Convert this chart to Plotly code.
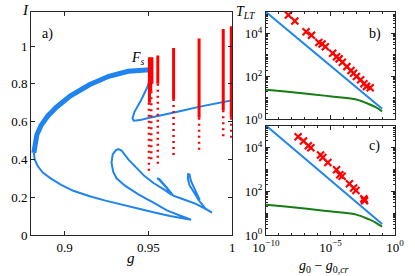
import plotly.graph_objects as go

# ---------------- panel a) : bifurcation diagram ----------------
# thick (stable) upper branch, from left fold up to fold F_s
upper_g = [0.8817, 0.8822, 0.8835, 0.8860, 0.8900, 0.8950, 0.9033, 0.9148, 0.9264, 0.9379, 0.9475, 0.9505, 0.9515]
upper_I = [0.435, 0.480, 0.530, 0.580, 0.630, 0.675, 0.735, 0.795, 0.840, 0.866, 0.877, 0.874, 0.865]

# thin branch after F_s: down to lower fold, then to g = 1
mid_g = [0.9515, 0.9514, 0.9494, 0.9456, 0.9417, 0.9405, 0.9412, 0.9450, 0.9494, 0.9590, 0.9687, 0.9800, 0.9937, 1.0000]
mid_I = [0.865, 0.844, 0.783, 0.713, 0.652, 0.618, 0.605, 0.608, 0.618, 0.635, 0.655, 0.678, 0.704, 0.713]

# thin lower branch with loops
low_g = [0.8817, 0.8822, 0.8840, 0.8870, 0.8917, 0.8980, 0.9052, 0.9150, 0.9244, 0.9340, 0.9437, 0.9530, 0.9629, 0.9700, 0.9754,
         0.9687, 0.9610, 0.9533, 0.9440, 0.9360, 0.9310, 0.9290, 0.9280, 0.9287, 0.9305, 0.9321, 0.9340, 0.9380, 0.9417, 0.9475,
         0.9530, 0.9590, 0.9639, 0.9600, 0.9560, 0.9552, 0.9565, 0.9610, 0.9648, 0.9720, 0.9783, 0.9840, 0.9879,
         0.9840, 0.9802, 0.9770, 0.9744, 0.9735, 0.9737, 0.9745, 0.9754, 0.9780, 0.9806]
low_I = [0.435, 0.400, 0.365, 0.330, 0.300, 0.265, 0.234, 0.205, 0.182, 0.160, 0.139, 0.120, 0.101, 0.090, 0.081,
         0.103, 0.130, 0.170, 0.215, 0.261, 0.300, 0.335, 0.383, 0.426, 0.448, 0.455, 0.447, 0.400, 0.365, 0.313,
         0.275, 0.243, 0.212, 0.258, 0.296, 0.300, 0.296, 0.250, 0.208, 0.185, 0.165, 0.138, 0.118,
         0.140, 0.182, 0.225, 0.265, 0.300, 0.322, 0.320, 0.285, 0.235, 0.185]

# red simulation columns: dense part (g, top, bottom) and sparse part (g, top, bottom)
dense_g = [0.9506, 0.9514, 0.9521, 0.9556, 0.9650, 0.9802, 0.9946, 0.9994]
dense_top = [0.94, 0.93, 0.94, 0.95, 0.99, 1.04, 1.09, 1.105]
dense_bot = [0.70, 0.76, 0.80, 0.80, 0.72, 0.62, 0.66, 0.62]
sparse_g = [0.9503, 0.9517, 0.9556, 0.9650, 0.9802, 0.9946, 0.9994]
sparse_top = [0.70, 0.76, 0.80, 0.72, 0.62, 0.66, 0.62]
sparse_bot = [0.33, 0.40, 0.37, 0.42, 0.45, 0.52, 0.50]

# ---------------- panels b) and c) : lifetimes ----------------
blue_log_dg = [-10.0, -1.0]
blue_log_T = [5.0, 0.5]
green_log_dg = [-10.0, -8.5, -7.0, -5.5, -4.5, -3.0, -2.0, -1.5, -1.0]
green_log_T = [1.38, 1.30, 1.21, 1.11, 1.05, 0.93, 0.71, 0.57, 0.38]

b_log_dg = [-8.26, -7.76, -6.89, -6.47, -5.90, -5.65, -5.40, -4.83, -4.53, -4.33, -4.08, -3.73, -3.41, -3.21, -2.99, -2.66, -2.41, -2.21, -1.92]
b_log_T = [4.86, 4.58, 4.08, 3.92, 3.58, 3.51, 3.38, 3.08, 2.92, 2.82, 2.66, 2.46, 2.28, 2.15, 2.00, 1.85, 1.66, 1.54, 1.48]
c_log_dg = [-7.51, -7.09, -6.72, -6.52, -5.77, -5.60, -5.20, -4.53, -4.28, -4.10, -3.53, -3.21, -3.03, -2.41, -2.36]
c_log_T = [4.49, 4.29, 4.08, 3.98, 3.65, 3.54, 3.31, 2.98, 2.75, 2.68, 2.34, 2.15, 2.03, 1.65, 1.57]

BLUE = "#1f83f0"
RED = "#ff0000"
GREEN = "#147d14"
FONT = "Liberation Serif"

def p10(v):
    return [10 ** x for x in v]

fig = go.Figure()

# panel a
fig.add_trace(go.Scatter(x=low_g, y=low_I, mode="lines", line=dict(color=BLUE, width=2), xaxis="x", yaxis="y"))
fig.add_trace(go.Scatter(x=mid_g, y=mid_I, mode="lines", line=dict(color=BLUE, width=2), xaxis="x", yaxis="y"))
fig.add_trace(go.Scatter(x=upper_g, y=upper_I, mode="lines", line=dict(color=BLUE, width=5), xaxis="x", yaxis="y"))
for g, t, b in zip(sparse_g, sparse_top, sparse_bot):
    fig.add_trace(go.Scatter(x=[g, g], y=[t, b], mode="lines",
                             line=dict(color=RED, width=2.5, dash="2px,4px"), xaxis="x", yaxis="y"))
for g, t, b in zip(dense_g, dense_top, dense_bot):
    fig.add_trace(go.Scatter(x=[g, g], y=[t, b], mode="lines",
                             line=dict(color=RED, width=3), xaxis="x", yaxis="y"))

# panels b and c
for xa, ya, cx, cy in (("x2", "y2", b_log_dg, b_log_T), ("x3", "y3", c_log_dg, c_log_T)):
    fig.add_trace(go.Scatter(x=p10(blue_log_dg), y=p10(blue_log_T), mode="lines",
                             line=dict(color=BLUE, width=2), xaxis=xa, yaxis=ya))
    fig.add_trace(go.Scatter(x=p10(green_log_dg), y=p10(green_log_T), mode="lines",
                             line=dict(color=GREEN, width=2, shape="spline"), xaxis=xa, yaxis=ya))
    fig.add_trace(go.Scatter(x=p10(cx), y=p10(cy), mode="markers",
                             marker=dict(symbol="x-thin", size=7, line=dict(color=RED, width=2.2)),
                             xaxis=xa, yaxis=ya))

axis_common = dict(showline=True, mirror="ticks", linecolor="#262626", linewidth=1,
                   ticks="inside", ticklen=4, tickcolor="#262626", showgrid=False, zeroline=False,
                   tickfont=dict(family=FONT, size=13, color="black"))

sup = lambda e: "10<sup>%s</sup>" % e
xlog = dict(type="log", range=[-10, 0], tickvals=[1e-10, 1e-5, 1],
            ticktext=[sup("−10"), sup("−5"), sup("0")],
            minor=dict(ticks="inside", ticklen=2, dtick=1, tickcolor="#262626", showgrid=False))
ylog = dict(type="log", range=[0, 5], tickvals=[1, 100, 10000],
            ticktext=[sup("0"), sup("2"), sup("4")],
            minor=dict(ticks="inside", ticklen=2, dtick="D1", tickcolor="#262626", showgrid=False))

fig.update_layout(
    width=415, height=276,
    margin=dict(l=26, r=11, t=11, b=41),
    paper_bgcolor="white", plot_bgcolor="white",
    showlegend=False,
    font=dict(family=FONT, size=13, color="black"),
    xaxis=dict(domain=[0, 0.553], range=[0.88, 1.0], tickvals=[0.9, 0.95, 1.0],
               ticktext=["0.9", "0.95", "1"], anchor="y", **axis_common),
    yaxis=dict(domain=[0, 1], range=[0, 1.18], tickvals=[0, 0.2, 0.4, 0.6, 0.8, 1.0],
               ticktext=["0", "0.2", "0.4", "0.6", "0.8", "1"], anchor="x", **axis_common),
    xaxis2=dict(domain=[0.6455, 1], anchor="y2", showticklabels=False, **xlog, **axis_common),
    yaxis2=dict(domain=[0.518, 1], anchor="x2", **ylog, **axis_common),
    xaxis3=dict(domain=[0.6455, 1], anchor="y3", **xlog, **axis_common),
    yaxis3=dict(domain=[0, 0.491], anchor="x3", **ylog, **axis_common),
)

def ann(text, x, y, size=14, xanchor="center"):
    fig.add_annotation(text=text, x=x, y=y, xref="paper", yref="paper", showarrow=False,
                       xanchor=xanchor, yanchor="middle", font=dict(family=FONT, size=size, color="black"))

ann("<i>I</i>", -0.016, 1.01, 15)
ann("a)", 0.045, 0.902, 14)
ann("<i>F<sub>s</sub></i>", 0.294, 0.79, 14)
ann("<i>g</i>", 0.275, -0.103, 15)
ann("b)", 0.944, 0.902, 14)
ann("c)", 0.944, 0.397, 14)
ann("<i>T<sub>LT</sub></i>", 0.59, 1.0, 14)
ann("<i>g</i><sub>0</sub> − <i>g</i><sub>0,<i>cr</i></sub>", 0.806, -0.143, 14)

fig.write_html("out.html", config={"displayModeBar": False},
               post_script="document.body.style.margin='0';")
